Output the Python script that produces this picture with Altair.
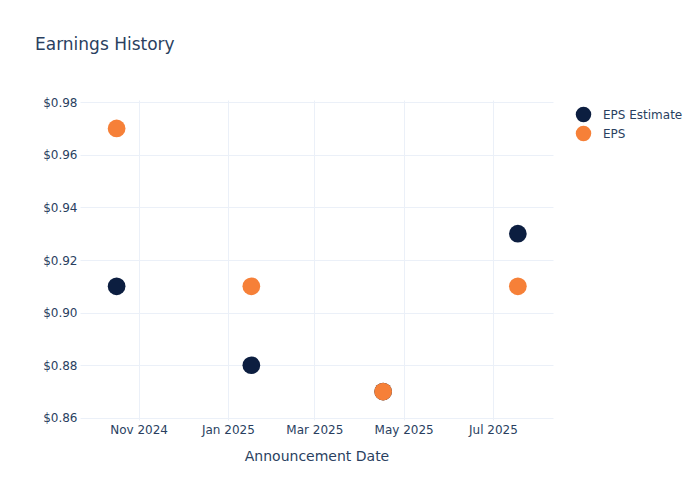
import altair as alt
import pandas as pd

dates = ["2024-10-17", "2025-01-17", "2025-04-17", "2025-07-18"]
eps_estimate = [0.91, 0.88, 0.87, 0.93]
eps_actual = [0.97, 0.91, 0.87, 0.91]
series_names = ["EPS Estimate", "EPS"]
series_colors = ["#0C1E40", "#F68038"]
tick_dates = ["2024-11-01", "2025-01-01", "2025-03-01", "2025-05-01", "2025-07-01"]
y_ticks = [0.86, 0.88, 0.90, 0.92, 0.94, 0.96, 0.98]

rows = []
for d, v in zip(dates, eps_estimate):
    rows.append({"date": d, "value": v, "series": "EPS Estimate"})
for d, v in zip(dates, eps_actual):
    rows.append({"date": d, "value": v, "series": "EPS"})
df = pd.DataFrame(rows)

FONT = "DejaVu Sans"
TXT = "#2a3f5f"
GRID = "#EBF0F8"

tick_vals = [alt.DateTime(year=int(t[:4]), month=int(t[5:7]), date=int(t[8:10])) for t in tick_dates]

chart = alt.Chart(df).mark_circle(size=314, opacity=1).encode(
    x=alt.X(
        "date:T",
        title="Announcement Date",
        scale=alt.Scale(domain=[alt.DateTime(year=2024, month=9, date=22), alt.DateTime(year=2025, month=8, date=11)]),
        axis=alt.Axis(
            values=tick_vals, format="%b %Y", labelFontSize=12, labelColor=TXT, labelFont=FONT,
            titleFontSize=14, titleColor=TXT, titleFont=FONT, titleFontWeight="normal",
            domain=False, ticks=False, gridColor=GRID, labelPadding=4, titlePadding=14,
        ),
    ),
    y=alt.Y(
        "value:Q",
        title=None,
        scale=alt.Scale(domain=[0.8592, 0.9808], zero=False, nice=False),
        axis=alt.Axis(
            values=y_ticks, format="$.2f", labelFontSize=12, labelColor=TXT, labelFont=FONT,
            domain=False, ticks=False, gridColor=GRID, labelPadding=3,
        ),
    ),
    color=alt.Color(
        "series:N",
        scale=alt.Scale(domain=series_names, range=series_colors),
        legend=alt.Legend(
            title=None, orient="none", legendX=495, legendY=6, symbolType="circle",
            symbolSize=240, labelFontSize=12, labelColor=TXT, labelFont=FONT,
            rowPadding=2, padding=0, symbolOpacity=1, labelOffset=11,
        ),
    ),
).properties(
    width=473,
    height=320,
    title=alt.Title("Earnings History", anchor="start", fontSize=17, color=TXT, font=FONT,
                    fontWeight="normal", dx=-45, offset=42, frame="group"),
    autosize=alt.AutoSizeParams(type="none"),
    padding={"left": 72, "top": 92, "right": 138, "bottom": 72},
).configure_view(stroke=None)

chart.save("out.html", embed_options={"renderer": "svg", "actions": False})
